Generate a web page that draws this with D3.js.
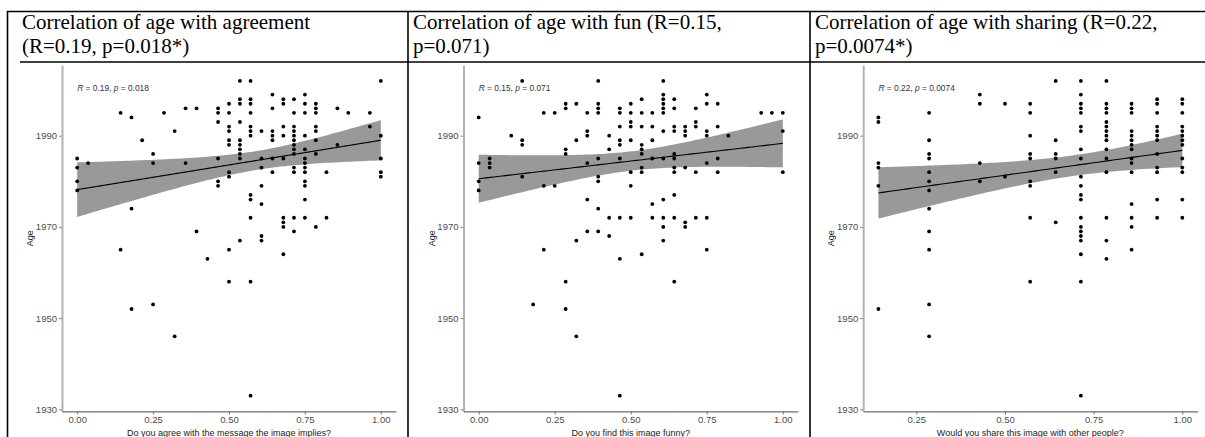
<!DOCTYPE html>
<html>
<head>
<meta charset="utf-8">
<script src="https://cdn.jsdelivr.net/npm/d3@7"></script>
<style>
  body { margin: 0; background: #fff; }
</style>
</head>
<body>
<div id="canvas"></div>
<script>
const width = 1205;
const height = 437;

// agreement score (share of items agreed) and birth years in each column
const agreeScore = [0, 0.036, 0.143, 0.179, 0.214, 0.25, 0.286, 0.321, 0.357, 0.393, 0.429, 0.464, 0.5, 0.536,
  0.571, 0.607, 0.643, 0.679, 0.714, 0.75, 0.786, 0.821, 0.857, 0.893, 0.964, 1];
const agreeAge = [
  [1985, 1983, 1980, 1978], [1984], [1995, 1965], [1994, 1974, 1952], [1989], [1986, 1984, 1953], [1995],
  [1991, 1946], [1996, 1984], [1996, 1969], [1963], [1996, 1995, 1993, 1985, 1980, 1979],
  [1997, 1995, 1992, 1991, 1989, 1988, 1982, 1981, 1965, 1958],
  [2002, 1998, 1997, 1993, 1989, 1988, 1987, 1986, 1985, 1967],
  [2002, 1998, 1997, 1995, 1992, 1991, 1990, 1977, 1976, 1972, 1958, 1933],
  [1991, 1985, 1983, 1979, 1975, 1968, 1967],
  [1999, 1996, 1991, 1990, 1989, 1985, 1982],
  [1998, 1997, 1992, 1990, 1985, 1972, 1971, 1970, 1964],
  [1998, 1995, 1992, 1991, 1990, 1989, 1988, 1987, 1986, 1983, 1982, 1972, 1969],
  [1999, 1997, 1995, 1990, 1987, 1985, 1984, 1983, 1982, 1980, 1979, 1976, 1972],
  [1997, 1996, 1995, 1992, 1991, 1989, 1986, 1970],
  [1982, 1972], [1996, 1988], [1995], [1995, 1992], [2002, 1990, 1985, 1982, 1981]
];

// fun score
const funScore = [0, 0.036, 0.107, 0.143, 0.179, 0.214, 0.25, 0.286, 0.321, 0.357, 0.393, 0.429, 0.464, 0.5,
  0.536, 0.571, 0.607, 0.643, 0.679, 0.714, 0.75, 0.786, 0.821, 0.929, 0.964, 1];
const funAge = [
  [1994, 1984, 1980, 1978], [1985, 1984, 1983], [1990], [2002, 1989, 1988, 1981], [1953], [1995, 1979, 1965],
  [1995, 1979], [1997, 1996, 1987, 1986, 1958, 1952], [1997, 1989, 1967, 1946],
  [1995, 1991, 1990, 1984, 1976, 1969],
  [2002, 1997, 1996, 1995, 1985, 1981, 1980, 1974, 1969],
  [1990, 1987, 1972, 1968],
  [1996, 1995, 1992, 1989, 1988, 1985, 1972, 1963, 1933],
  [1997, 1995, 1993, 1992, 1989, 1982, 1979, 1972],
  [1998, 1995, 1992, 1988, 1987, 1986, 1983, 1982, 1964],
  [1995, 1992, 1989, 1985, 1975, 1972],
  [2002, 1999, 1998, 1997, 1996, 1995, 1991, 1985, 1976, 1972, 1970, 1967],
  [1998, 1996, 1992, 1991, 1986, 1985, 1983, 1982, 1977, 1972, 1958],
  [1992, 1991, 1990, 1983, 1971, 1970],
  [1996, 1993, 1992, 1982, 1972],
  [1999, 1997, 1991, 1990, 1984, 1972, 1965],
  [1997, 1992, 1985, 1982], [1990], [1995], [1995], [1995, 1991, 1982]
];

// sharing score
const shareScore = [0.143, 0.286, 0.429, 0.5, 0.571, 0.643, 0.714, 0.786, 0.857, 0.929, 1];
const shareAge = [
  [1994, 1993, 1984, 1983, 1979, 1952],
  [1995, 1989, 1986, 1985, 1982, 1980, 1978, 1974, 1969, 1965, 1953, 1946],
  [1999, 1997, 1984, 1980],
  [1997, 1981],
  [1997, 1995, 1990, 1986, 1985, 1980, 1979, 1972, 1958],
  [2002, 1989, 1986, 1985, 1982, 1971],
  [2002, 1999, 1997, 1996, 1995, 1992, 1991, 1987, 1985, 1981, 1979, 1977, 1976, 1972, 1970, 1969, 1968, 1967, 1964, 1958, 1933],
  [2002, 1997, 1996, 1995, 1993, 1992, 1991, 1990, 1989, 1987, 1985, 1982, 1972, 1967, 1963],
  [1997, 1996, 1995, 1991, 1990, 1989, 1988, 1987, 1985, 1984, 1982, 1975, 1972, 1970, 1965],
  [1998, 1997, 1995, 1992, 1991, 1990, 1989, 1986, 1983, 1982, 1976, 1972],
  [1998, 1997, 1995, 1992, 1991, 1990, 1989, 1988, 1985, 1983, 1982, 1976, 1972]
];

const titleLines = [
  ["Correlation of age with agreement", "(R=0.19, p=0.018*)"],
  ["Correlation of age with fun (R=0.15,", "p=0.071)"],
  ["Correlation of age with sharing (R=0.22,", "p=0.0074*)"]
];
const xTitles = ["Do you agree with the message the image implies?", "Do you find this image funny?",
  "Would you share this image with other people?"];
const statR = ["0.19", "0.15", "0.22"];
const statP = ["0.018", "0.071", "0.0074"];
const xTicksFull = [0, 0.25, 0.5, 0.75, 1];
const xTicksShare = [0.25, 0.5, 0.75, 1];
const yTicks = [1930, 1950, 1970, 1990];

const svg = d3.select("#canvas").append("svg")
  .attr("width", width)
  .attr("height", height)
  .style("font-family", "'Liberation Sans', Arial, sans-serif");

// table borders
const cellX = [7.5, 408, 810];
const textX = [22, 413, 815];
svg.append("line").attr("x1", 7).attr("x2", width).attr("y1", 11.5).attr("y2", 11.5)
  .attr("stroke", "#000").attr("stroke-width", 1.5);
svg.append("line").attr("x1", 20).attr("x2", width).attr("y1", 62).attr("y2", 62)
  .attr("stroke", "#000").attr("stroke-width", 1.5);
cellX.forEach(x => {
  svg.append("line").attr("x1", x).attr("x2", x).attr("y1", 11).attr("y2", height)
    .attr("stroke", "#000").attr("stroke-width", 1.6);
});

// titles
titleLines.forEach((lines, i) => {
  const t = svg.append("text")
    .style("font-family", "'Liberation Serif', 'Times New Roman', serif")
    .style("font-size", "21px")
    .attr("fill", "#000");
  lines.forEach((s, j) => {
    t.append("tspan").attr("x", textX[i]).attr("y", 28.5 + j * 24.5).text(s);
  });
});

const panels = [
  { score: agreeScore, ages: agreeAge, left: 62, right: 396, xTicks: xTicksFull },
  { score: funScore, ages: funAge, left: 463.5, right: 798, xTicks: xTicksFull },
  { score: shareScore, ages: shareAge, left: 863.2, right: 1197.5, xTicks: xTicksShare }
];
const panelTop = 65.2;
const panelBottom = 411.4;

function expand(ext) {
  const pad = (ext[1] - ext[0]) * 0.05;
  return [ext[0] - pad, ext[1] + pad];
}

function fit(pts, xs) {
  const n = pts.length;
  const mx = d3.mean(pts, d => d.x);
  const my = d3.mean(pts, d => d.y);
  const sxx = d3.sum(pts, d => (d.x - mx) ** 2);
  const sxy = d3.sum(pts, d => (d.x - mx) * (d.y - my));
  const b = sxy / sxx;
  const a = my - b * mx;
  const s = Math.sqrt(d3.sum(pts, d => (d.y - a - b * d.x) ** 2) / (n - 2));
  const t = 1.977;
  return xs.map(x => {
    const f = a + b * x;
    const se = s * Math.sqrt(1 / n + (x - mx) ** 2 / sxx);
    return { x: x, f: f, lo: f - t * se, hi: f + t * se };
  });
}

const allAges = agreeAge.flat();

panels.forEach((p, i) => {
  const pts = [];
  p.score.forEach((s, k) => p.ages[k].forEach(a => pts.push({ x: s, y: a })));

  const x = d3.scaleLinear().domain(expand(d3.extent(p.score))).range([p.left, p.right]);
  const y = d3.scaleLinear().domain(expand(d3.extent(allAges))).range([panelBottom, panelTop]);

  const g = svg.append("g");

  // confidence band + fitted line
  const ext = d3.extent(p.score);
  const grid = d3.range(80).map(j => ext[0] + j * (ext[1] - ext[0]) / 79);
  const fitted = fit(pts, grid);

  g.append("path")
    .datum(fitted)
    .attr("fill", "#999999")
    .attr("d", d3.area().x(d => x(d.x)).y0(d => y(d.lo)).y1(d => y(d.hi)));

  g.selectAll("circle.pt")
    .data(pts)
    .enter().append("circle")
    .attr("class", "pt")
    .attr("cx", d => x(d.x))
    .attr("cy", d => y(d.y))
    .attr("r", 1.9)
    .attr("fill", "#000");

  g.append("path")
    .datum(fitted)
    .attr("fill", "none")
    .attr("stroke", "#000")
    .attr("stroke-width", 1.1)
    .attr("d", d3.line().x(d => x(d.x)).y(d => y(d.f)));

  // axes
  const ya = g.append("g")
    .attr("transform", `translate(${p.left},0)`)
    .call(d3.axisLeft(y).tickValues(yTicks).tickFormat(d3.format("d"))
      .tickSize(3).tickSizeOuter(0).tickPadding(2));
  ya.select(".domain").attr("stroke", "#b3b3b3").attr("stroke-width", 2);
  ya.selectAll(".tick line").attr("stroke", "#8a8a8a");
  ya.selectAll(".tick text").attr("fill", "#4d4d4d")
    .style("font-family", "'Liberation Sans', Arial, sans-serif").style("font-size", "9.5px");

  const xa = g.append("g")
    .attr("transform", `translate(0,${panelBottom})`)
    .call(d3.axisBottom(x).tickValues(p.xTicks).tickFormat(d3.format(".2f"))
      .tickSize(3).tickSizeOuter(0).tickPadding(2));
  xa.select(".domain").attr("stroke", "#6e6e6e").attr("stroke-width", 1.1);
  xa.selectAll(".tick line").attr("stroke", "#6e6e6e");
  xa.selectAll(".tick text").attr("fill", "#4d4d4d")
    .style("font-family", "'Liberation Sans', Arial, sans-serif").style("font-size", "9.5px");

  // axis titles
  g.append("text")
    .attr("x", (p.left + p.right) / 2)
    .attr("y", 436)
    .attr("text-anchor", "middle")
    .style("font-size", "9px")
    .attr("fill", "#1a1a1a")
    .text(xTitles[i]);

  g.append("text")
    .attr("transform", `translate(${p.left - 29},${(panelTop + panelBottom) / 2}) rotate(-90)`)
    .attr("text-anchor", "middle")
    .style("font-size", "9px")
    .attr("fill", "#1a1a1a")
    .text("Age");

  // correlation label
  const lab = g.append("text")
    .attr("x", x(ext[0]))
    .attr("y", y(d3.max(allAges)) + 10.5)
    .style("font-size", "8.4px")
    .attr("fill", "#333");
  lab.append("tspan").style("font-style", "italic").text("R");
  lab.append("tspan").text(` = ${statR[i]}, `);
  lab.append("tspan").style("font-style", "italic").text("p");
  lab.append("tspan").text(` = ${statP[i]}`);
});
</script>
</body>
</html>
